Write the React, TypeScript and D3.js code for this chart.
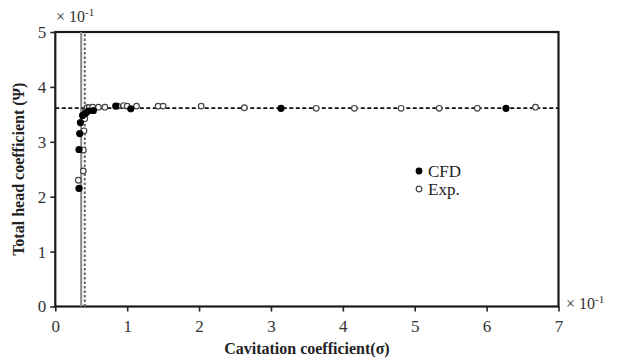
import { useEffect, useRef } from "react";
import * as d3 from "d3";

// values in units of 10^-1
const cfdSigma = [0.33, 0.33, 0.34, 0.35, 0.38, 0.42, 0.46, 0.53, 0.84, 1.05, 3.14, 6.27];
const cfdPsi = [2.15, 2.86, 3.15, 3.35, 3.48, 3.52, 3.56, 3.57, 3.65, 3.6, 3.61, 3.61];

const expSigma = [0.32, 0.39, 0.39, 0.4, 0.41, 0.42, 0.44, 0.47, 0.52, 0.6, 0.69, 0.87, 0.95, 1.0, 1.13, 1.43, 1.5, 2.03, 2.63, 3.63, 4.16, 4.81, 5.34, 5.87, 6.68];
const expPsi = [2.3, 2.47, 2.85, 3.2, 3.42, 3.56, 3.62, 3.62, 3.63, 3.63, 3.63, 3.65, 3.66, 3.65, 3.65, 3.65, 3.65, 3.65, 3.62, 3.61, 3.61, 3.61, 3.61, 3.61, 3.63];

const refPsi = 3.615;
const solidSigma = 0.36;
const dottedSigma = 0.41;

const xTicks = [0, 1, 2, 3, 4, 5, 6, 7];
const yTicks = [0, 1, 2, 3, 4, 5];

const W = 617;
const H = 361;
const FONT = "'Liberation Serif', 'Times New Roman', serif";

const App = () => {
  const svgRef = useRef<SVGSVGElement>(null);

  useEffect(() => {
    const svg = d3.select(svgRef.current);
    svg.selectAll("*").remove();

    const x = d3.scaleLinear().domain([0, 7]).range([55.3, 558.5]);
    const y = d3.scaleLinear().domain([0, 5]).range([306.5, 32]);

    const g = svg.append("g");

    // frame
    g.append("rect")
      .attr("x", x(0)).attr("y", y(5))
      .attr("width", x(7) - x(0)).attr("height", y(0) - y(5))
      .attr("fill", "none").attr("stroke", "#1a1a1a").attr("stroke-width", 2.2);

    // reference lines
    g.append("line")
      .attr("x1", x(solidSigma)).attr("x2", x(solidSigma))
      .attr("y1", y(0)).attr("y2", y(5))
      .attr("stroke", "#8a8a8a").attr("stroke-width", 2);
    g.append("line")
      .attr("x1", x(dottedSigma)).attr("x2", x(dottedSigma))
      .attr("y1", y(0)).attr("y2", y(5))
      .attr("stroke", "#666").attr("stroke-width", 2).attr("stroke-dasharray", "2.5,2");
    g.append("line")
      .attr("x1", x(0)).attr("x2", x(7))
      .attr("y1", y(refPsi)).attr("y2", y(refPsi))
      .attr("stroke", "#111").attr("stroke-width", 1.7).attr("stroke-dasharray", "4,2.5");

    // axes
    const xAxis = g.append("g")
      .attr("transform", `translate(0,${y(0)})`)
      .call(d3.axisBottom(x).tickValues(xTicks).tickSize(5).tickFormat(d3.format("d")));
    const yAxis = g.append("g")
      .attr("transform", `translate(${x(0)},0)`)
      .call(d3.axisLeft(y).tickValues(yTicks).tickSize(5).tickFormat(d3.format("d")));
    [xAxis, yAxis].forEach((a) => {
      a.select(".domain").remove();
      a.selectAll("line").attr("stroke", "#222").attr("stroke-width", 1.6);
      a.selectAll("text").attr("font-family", FONT).attr("font-size", 17).attr("fill", "#333");
    });
    xAxis.selectAll("text").attr("dy", "1.0em");
    yAxis.selectAll("text").attr("x", -9);

    // multiplier labels
    const mult = (tx: number, ty: number) => {
      const t = g.append("text").attr("x", tx).attr("y", ty)
        .attr("font-family", FONT).attr("font-size", 16).attr("fill", "#333");
      t.append("tspan").text("× 10");
      t.append("tspan").attr("dy", -6).attr("font-size", 11).text("-1");
    };
    mult(56, 22);
    mult(566, 309);

    // axis titles
    g.append("text")
      .attr("x", (x(0) + x(7)) / 2).attr("y", 354)
      .attr("text-anchor", "middle")
      .attr("font-family", FONT).attr("font-size", 16).attr("font-weight", "bold").attr("fill", "#222")
      .text("Cavitation coefficient(σ)");
    g.append("text")
      .attr("transform", `translate(24,${y(2.5)}) rotate(-90)`)
      .attr("text-anchor", "middle")
      .attr("font-family", FONT).attr("font-size", 16).attr("font-weight", "bold").attr("fill", "#222")
      .text("Total head coefficient (Ψ)");

    // data points
    g.selectAll(".exp")
      .data(expSigma.map((s, i) => [s, expPsi[i]]))
      .join("circle")
      .attr("cx", (d) => x(d[0])).attr("cy", (d) => y(d[1]))
      .attr("r", 2.8).attr("fill", "#fff").attr("stroke", "#444").attr("stroke-width", 1.2);
    g.selectAll(".cfd")
      .data(cfdSigma.map((s, i) => [s, cfdPsi[i]]))
      .join("circle")
      .attr("cx", (d) => x(d[0])).attr("cy", (d) => y(d[1]))
      .attr("r", 3.6).attr("fill", "#000");

    // legend
    const lg = g.append("g").attr("transform", "translate(419,171)");
    lg.append("circle").attr("cx", 0).attr("cy", 0).attr("r", 3.4).attr("fill", "#000");
    lg.append("text").attr("x", 9).attr("y", 5.5).attr("font-family", FONT).attr("font-size", 17).attr("fill", "#222").text("CFD");
    lg.append("circle").attr("cx", 0).attr("cy", 18).attr("r", 2.8).attr("fill", "#fff").attr("stroke", "#444").attr("stroke-width", 1.2);
    lg.append("text").attr("x", 9).attr("y", 23.5).attr("font-family", FONT).attr("font-size", 17).attr("fill", "#222").text("Exp.");
  }, []);

  return (
    <svg ref={svgRef} width={W} height={H}
      style={{ position: "absolute", left: 0, top: 0, background: "#fff" }} />
  );
};

export default App;
